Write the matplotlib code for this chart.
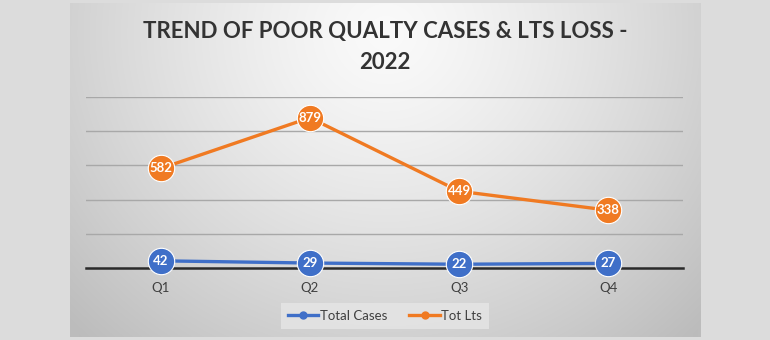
import numpy as np
import matplotlib.pyplot as plt
from matplotlib.lines import Line2D

quarters = ["Q1", "Q2", "Q3", "Q4"]
total_cases = [42, 29, 22, 27]
tot_lts = [582, 879, 449, 338]
title = "TREND OF POOR QUALTY CASES & LTS LOSS -\n2022"

blue = "#3f6fc8"
orange = "#f07a22"
font = ["Lato", "DejaVu Sans"]

W, H = 770, 340
fig = plt.figure(figsize=(W / 100, H / 100), dpi=100, facecolor="#dcdcdc")

# chart area with radial gray gradient
x0, x1, y0, y1 = 70, 700, 3, 337
bg = fig.add_axes([x0 / W, 1 - y1 / H, (x1 - x0) / W, (y1 - y0) / H])
yy, xx = np.mgrid[0:(y1 - y0), 0:(x1 - x0)]
d = np.sqrt((xx - 315) ** 2 + ((yy - 30) / 0.95) ** 2)
shade = 250 - 62 * np.clip(d / 440, 0, 1) ** 1.3
bg.imshow(np.dstack([shade] * 3) / 255, aspect="auto", interpolation="bilinear")
bg.axis("off")

ax = fig.add_axes([86 / W, (H - 268) / H, 597 / W, 171 / H])
ax.patch.set_alpha(0)
x = np.arange(len(quarters))
ax.set_xlim(-0.5, len(quarters) - 0.5)
ax.set_ylim(0, 1000)
for v in [200, 400, 600, 800, 1000]:
    ax.axhline(v, color="#a8a8a8", lw=1, zorder=1)
ax.axhline(0, color="#2a2a2a", lw=1.8, zorder=2, clip_on=False)

ax.plot(x, total_cases, color=blue, lw=2.4, marker="o", ms=19,
        mec="white", mew=0.8, zorder=3, clip_on=False)
ax.plot(x, tot_lts, color=orange, lw=2.4, marker="o", ms=19,
        mec="white", mew=0.8, zorder=3, clip_on=False)
for xi, v in zip(x, total_cases):
    ax.text(xi, v, str(v), color="white", fontsize=9.5, fontweight="bold",
            family=font, ha="center", va="center", zorder=4)
for xi, v in zip(x, tot_lts):
    ax.text(xi, v, str(v), color="white", fontsize=9.5, fontweight="bold",
            family=font, ha="center", va="center", zorder=4)

for s in ax.spines.values():
    s.set_visible(False)
ax.set_yticks([])
ax.set_xticks(x)
ax.set_xticklabels(quarters, fontsize=9.5, color="#404040", family=font)
ax.tick_params(axis="x", length=0, pad=10)

fig.text(385 / W, 1 - 47 / H, title, ha="center", va="center", fontsize=16,
         fontweight="bold", color="#333333", family=font, linespacing=1.6)

handles = [Line2D([], [], color=blue, lw=2.4, marker="o", ms=5),
           Line2D([], [], color=orange, lw=2.4, marker="o", ms=5)]
leg = fig.legend(handles, ["Total Cases", "Tot Lts"], loc="center",
                 bbox_to_anchor=(385 / W, 1 - 316 / H), ncol=2, frameon=True,
                 handlelength=2.3, handletextpad=0.1,
                 columnspacing=1.7, fancybox=False, borderpad=0.5,
                 prop={"family": font, "size": 9.5})
leg.get_frame().set_facecolor("#e6e6e6")
leg.get_frame().set_edgecolor("none")
for t in leg.get_texts():
    t.set_color("#404040")

fig.savefig("out.png", dpi=100, facecolor=fig.get_facecolor())
